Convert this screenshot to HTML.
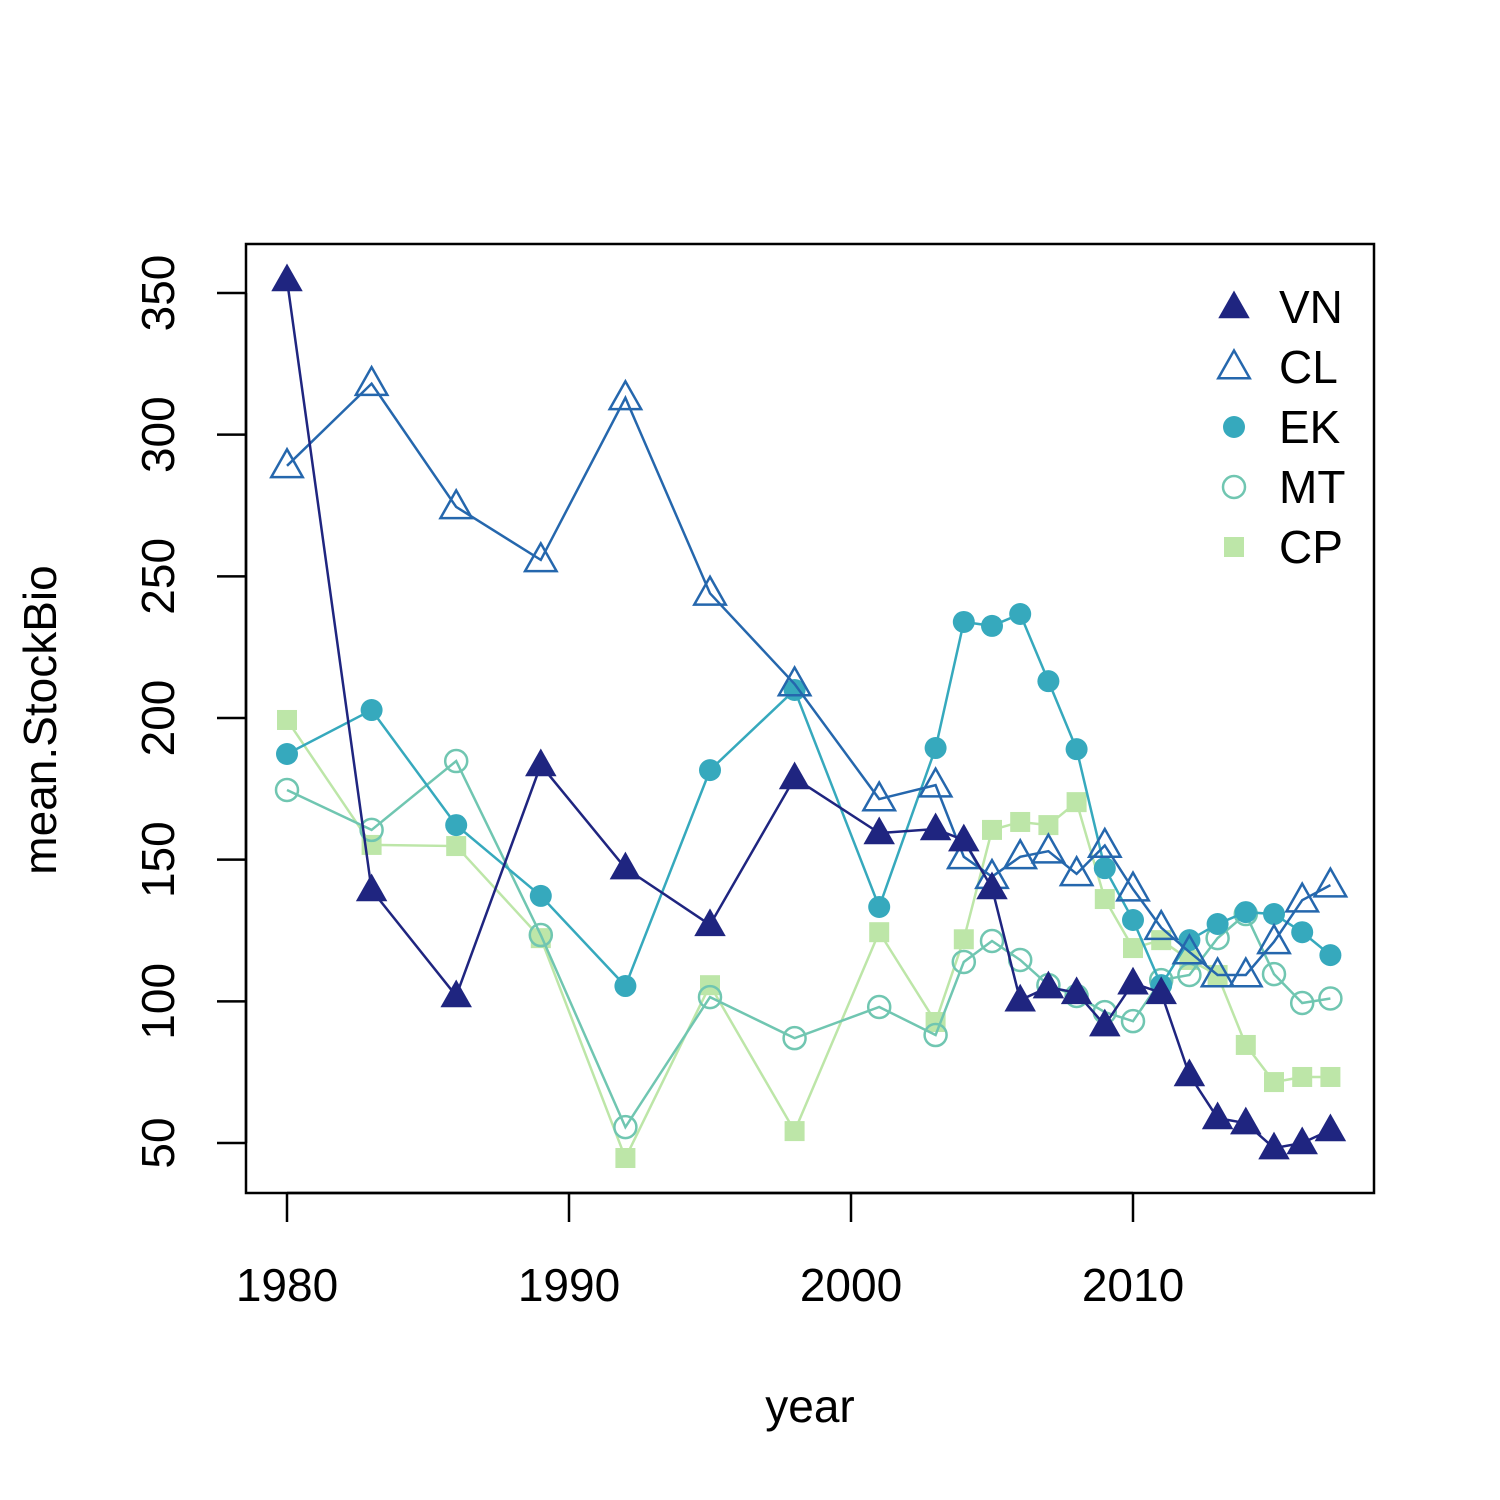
<!DOCTYPE html>
<html><head><meta charset="utf-8"><style>
html,body{margin:0;padding:0;background:#fff;}
svg{display:block;font-family:"Liberation Sans",Arial,sans-serif;}
</style></head><body>
<svg id="chart" width="1500" height="1500" viewBox="0 0 1500 1500" xmlns="http://www.w3.org/2000/svg">
<rect width="1500" height="1500" fill="#fff"/>
<g id="plot"></g>
</svg>
<script>
const years = [1980,1983,1986,1989,1992,1995,1998,2001,2003,2004,2005,2006,2007,2008,2009,2010,2011,2012,2013,2014,2015,2016,2017];
const seriesNames = ["VN","CL","EK","MT","CP"];
const vnValues = [354.6,139.3,101.9,183.4,147,127,178.8,159.4,160.8,156.9,140,100.4,105,103,91.6,106.4,103,74,58.8,57,48.2,50,54.6];
const clValues = [289,318,274.5,255.8,313,244,212,171.4,176.3,151,144,151,153,145,155,139.6,126,117.4,109.3,109.3,121,135.7,141];
const ekValues = [187.3,202.8,162.2,137.2,105.4,181.6,209.9,133.3,189.4,233.9,232.5,236.7,213,189,147,128.7,105.7,121.6,127.3,131.5,130.8,124.4,116.3];
const mtValues = [174.6,160.5,184.8,123.4,55.6,101.5,87,98,88.1,113.9,121.3,114.6,105.7,101.9,96.2,93,107.5,109.3,122.3,130.8,109.6,99.4,101];
const cpValues = [199.3,155.2,154.8,122.3,44.7,105.7,54.2,124.4,92.7,121.9,160.5,163.3,162.2,170.3,136.1,118.8,121.6,114.6,109.3,84.6,71.5,73.3,73.3];
const xTicks = [1980,1990,2000,2010];
const yTicks = [50,100,150,200,250,300,350];

const NS="http://www.w3.org/2000/svg";
const g=document.getElementById('plot');
function xs(v){return 287+(v-1980)*28.2;}
function ys(v){return 293+(350-v)*2.8333;}
function mk(tag,attrs,parent){const e=document.createElementNS(NS,tag);for(const k in attrs)e.setAttribute(k,attrs[k]);(parent||g).appendChild(e);return e;}

const box=mk('rect',{x:246,y:244,width:1128,height:949,fill:'none',stroke:'#000','stroke-width':2.5});



const xa=mk('line',{x1:xs(1980),x2:xs(2010),y1:1193,y2:1193,stroke:'#000','stroke-width':2.5});


xTicks.forEach(t=>{
  mk('line',{x1:xs(t),x2:xs(t),y1:1193,y2:1222,stroke:'#000','stroke-width':2.5});
  const tx=mk('text',{x:xs(t),y:1301,'font-size':46,'text-anchor':'middle'});
  tx.textContent=t;
  
  
});
const ya=mk('line',{x1:246,x2:246,y1:ys(50),y2:ys(350),stroke:'#000','stroke-width':2.5});


yTicks.forEach(t=>{
  mk('line',{x1:217,x2:246,y1:ys(t),y2:ys(t),stroke:'#000','stroke-width':2.5});
  const tx=mk('text',{x:0,y:0,'font-size':46,'text-anchor':'middle',transform:`translate(174,${ys(t)}) rotate(-90)`});
  tx.textContent=t;
  
  
});
const xt=mk('text',{x:810,y:1422,'font-size':46,'text-anchor':'middle'});
xt.textContent='year';


const yt=mk('text',{x:0,y:0,'font-size':46,'text-anchor':'middle',transform:'translate(56,720) rotate(-90)'});
yt.textContent='mean.StockBio';



const colors={VN:'#1f2580',CL:'#2567ad',EK:'#36a9bd',MT:'#70c6b1',CP:'#bde6a8'};
const shapes={VN:'tri-fill',CL:'tri-open',EK:'circ-fill',MT:'circ-open',CP:'sq-fill'};
const dataMap={VN:vnValues,CL:clValues,EK:ekValues,MT:mtValues,CP:cpValues};

function marker(shape,x,y,c,parent){
  let e;
  if(shape.startsWith('tri')){
    const s=15;
    e=mk('polygon',{points:`${x},${y-s*1.1} ${x-s*1.05},${y+s*0.75} ${x+s*1.05},${y+s*0.75}`},parent);
  }else if(shape.startsWith('circ')){
    e=mk('circle',{cx:x,cy:y,r:11},parent);
  }else{
    e=mk('rect',{x:x-10,y:y-10,width:20,height:20},parent);
  }
  if(shape.endsWith('open')){e.setAttribute('fill','none');e.setAttribute('stroke',c);e.setAttribute('stroke-width',2.5);}
  else{e.setAttribute('fill',c);}
  return e;
}

["CP","MT","EK","CL","VN"].forEach(name=>{
  const vals=dataMap[name],c=colors[name];
  const sg=mk('g',{});
  
  
  const pl=mk('polyline',{points:years.map((y,i)=>xs(y)+','+ys(vals[i])).join(' '),fill:'none',stroke:c,'stroke-width':2.5},sg);
  
  
  years.forEach((y,i)=>{
    const m=marker(shapes[name],xs(y),ys(vals[i]),c,sg);
    
    
  });
});

const lg=mk('g',{});


seriesNames.forEach((name,i)=>{
  const y=307+i*60;
  const eg=mk('g',{},lg);
  
  
  marker(shapes[name],1234,y,colors[name],eg);
  const t=mk('text',{x:1279,y:y+16,'font-size':46},eg);
  t.textContent=name;
});
</script>
</body></html>
